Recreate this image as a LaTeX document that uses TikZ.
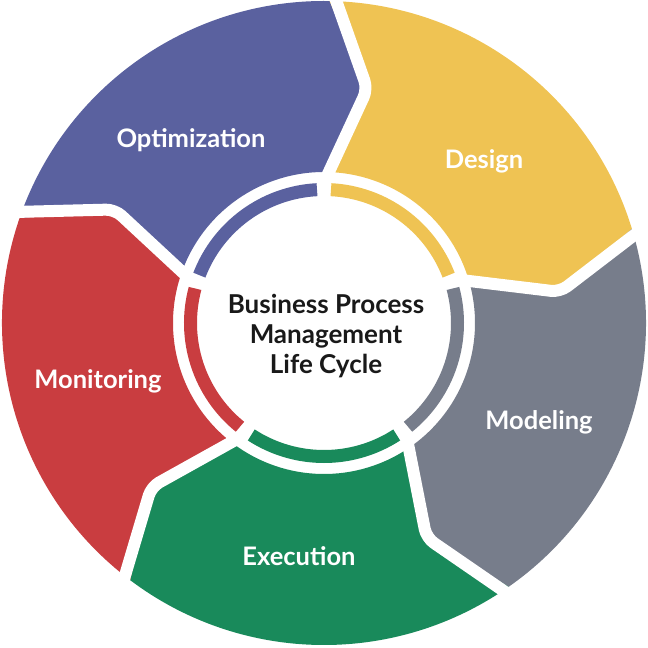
\documentclass[tikz,border=0pt]{standalone}
\usepackage{fontspec}
\setmainfont{Lato}
\usetikzlibrary{positioning}

\definecolor{optblue}{RGB}{90,97,159}
\definecolor{desyellow}{RGB}{239,195,83}
\definecolor{modgray}{RGB}{119,125,139}
\definecolor{exegreen}{RGB}{25,138,91}
\definecolor{monred}{RGB}{201,61,64}

\begin{document}
\begin{tikzpicture}[
    x=1pt, y=1pt,
    % Define styles
    stage/.style={text=white, font=\fontsize{25.5}{30}\selectfont\bfseries},
    hub/.style={text=black!90, font=\fontsize{26}{30}\selectfont\bfseries, align=center},
    gap/.style={draw=white, line width=12pt, rounded corners=9pt, line join=round},
    ring/.style={line width=13pt},
    ]
    \useasboundingbox (-324,-325) rectangle (324,323);

    % Outer segments
    \foreach \a/\col in {161/optblue, 89/desyellow, 17/modgray, -55/exegreen, -127/monred} {
        \pgfmathsetmacro{\b}{\a-72}
        \pgfmathsetmacro{\ta}{\a-9.5}
        \pgfmathsetmacro{\tb}{\b-9.5}
        \fill[\col] (\a:322) arc[start angle=\a, end angle=\b, radius=322]
            -- (\tb:238) -- (\b:151) arc[start angle=\b, end angle=\a, radius=151]
            -- (\ta:238) -- cycle;
    }

    % White borders between segments
    \foreach \a in {161, 89, 17, -55, -127} {
        \pgfmathsetmacro{\ta}{\a-9.5}
        \draw[gap] (\a:340) -- (\ta:238) -- (\a:146);
    }

    % Inner ring
    \foreach \a/\col in {162/optblue, 90/desyellow, 18/modgray, -54/exegreen, -126/monred} {
        \pgfmathsetmacro{\sa}{\a-3}
        \pgfmathsetmacro{\ea}{\a-69}
        \draw[ring, \col] (\sa:133.5) arc[start angle=\sa, end angle=\ea, radius=133.5];
    }

    % Labels
    \node[hub] (center) at (2,-13) {Business Process\\Management\\Life Cycle};
    \node[stage] (optimization) at (-133,183) {Optimization};
    \node[stage] (design) at (160,162) {Design};
    \node[stage] (modeling) at (215,-99) {Modeling};
    \node[stage] (execution) at (-25,-233) {Execution};
    \node[stage] (monitoring) at (-226,-58) {Monitoring};

\end{tikzpicture}
\end{document}
